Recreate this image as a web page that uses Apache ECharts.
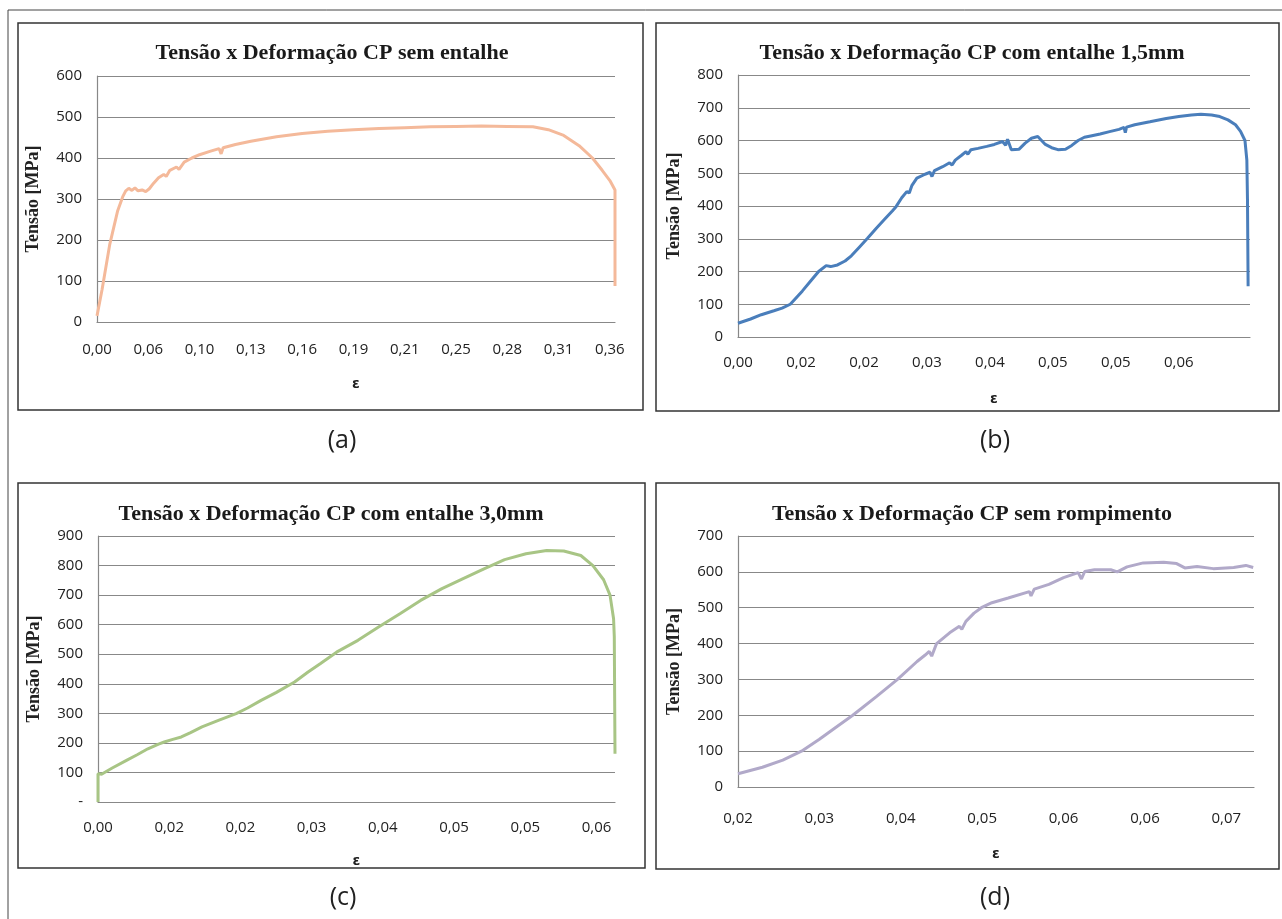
<!DOCTYPE html>
<html>
<head>
<meta charset="utf-8">
<script src="https://cdn.jsdelivr.net/npm/echarts@6/dist/echarts.min.js"></script>
<style>
  html, body { margin: 0; padding: 0; background: #fff; }
  #main { width: 1282px; height: 919px; }
</style>
</head>
<body>
<div id="main"></div>
<script>
// rótulos do eixo x (categorias do Excel)
const ticksA = ['0,00', '0,06', '0,10', '0,13', '0,16', '0,19', '0,21', '0,25', '0,28', '0,31', '0,36'];
const ticksB = ['0,00', '0,02', '0,02', '0,03', '0,04', '0,05', '0,05', '0,06'];
const ticksC = ['0,00', '0,02', '0,02', '0,03', '0,04', '0,05', '0,05', '0,06'];
const ticksD = ['0,02', '0,03', '0,04', '0,05', '0,06', '0,06', '0,07'];

// posição na escala de categorias (em unidades de rótulo)
const posA = [0, 0.1, 0.25, 0.4, 0.5, 0.56, 0.62, 0.68, 0.74, 0.8, 0.88, 0.95, 1.02, 1.1, 1.2, 1.3, 1.35, 1.42, 1.55, 1.6, 1.7, 1.85, 2.0, 2.2, 2.38, 2.42, 2.46, 2.7, 3.0, 3.5, 4.0, 4.5, 5.0, 5.5, 6.0, 6.5, 7.0, 7.5, 8.0, 8.5, 8.8, 9.1, 9.4, 9.66, 9.85, 10.0, 10.1, 10.1];
const tensaoA = [15, 80, 190, 270, 305, 320, 326, 321, 327, 320, 322, 318, 325, 338, 352, 360, 355, 370, 378, 372, 390, 400, 408, 416, 423, 410, 425, 433, 441, 452, 460, 465, 469, 472, 474, 476, 477, 478, 477, 476, 469, 455, 430, 400, 370, 345, 322, 88];

const posB = [0, 0.2, 0.37, 0.57, 0.7, 0.83, 1.02, 1.15, 1.28, 1.4, 1.47, 1.58, 1.7, 1.8, 1.93, 2.06, 2.2, 2.32, 2.45, 2.51, 2.6, 2.68, 2.72, 2.76, 2.84, 2.97, 3.05, 3.08, 3.12, 3.25, 3.36, 3.4, 3.45, 3.55, 3.62, 3.65, 3.7, 3.81, 3.95, 4.07, 4.2, 4.25, 4.28, 4.34, 4.46, 4.56, 4.66, 4.76, 4.82, 4.88, 4.98, 5.08, 5.2, 5.3, 5.4, 5.5, 5.6, 5.75, 5.9, 6.05, 6.13, 6.15, 6.17, 6.3, 6.54, 6.8, 7.0, 7.2, 7.35, 7.52, 7.65, 7.78, 7.9, 7.98, 8.05, 8.08, 8.09, 8.1];
const tensaoB = [42, 55, 68, 80, 88, 100, 140, 170, 200, 218, 215, 220, 232, 248, 275, 302, 333, 358, 385, 398, 425, 444, 440, 462, 485, 497, 503, 490, 508, 520, 532, 525, 540, 555, 566, 558, 572, 576, 582, 588, 597, 585, 604, 572, 573, 592, 607, 612, 600, 588, 578, 572, 573, 585, 600, 610, 614, 620, 627, 634, 640, 624, 641, 648, 657, 667, 673, 678, 680, 678, 673, 663, 648, 628, 600, 540, 420, 155];

const posC = [0, 0, 0.05, 0.2, 0.4, 0.55, 0.7, 0.85, 0.93, 1.05, 1.17, 1.3, 1.46, 1.7, 1.94, 2.1, 2.29, 2.5, 2.76, 2.95, 3.12, 3.35, 3.65, 3.94, 4.24, 4.53, 4.83, 5.12, 5.42, 5.71, 6.01, 6.3, 6.54, 6.78, 6.95, 7.1, 7.19, 7.24, 7.25, 7.26];
const tensaoC = [0, 96, 94, 115, 141, 160, 180, 196, 203, 212, 220, 235, 254, 277, 299, 318, 344, 370, 406, 440, 468, 507, 547, 592, 637, 682, 722, 755, 789, 820, 840, 851, 849, 834, 800, 752, 700, 620, 560, 163];

const posD = [0, 0.3, 0.55, 0.78, 1.0, 1.2, 1.41, 1.7, 1.96, 2.2, 2.3, 2.35, 2.38, 2.44, 2.6, 2.72, 2.75, 2.8, 2.9, 2.99, 3.12, 3.32, 3.58, 3.6, 3.64, 3.82, 4.0, 4.18, 4.22, 4.26, 4.38, 4.58, 4.66, 4.78, 4.98, 5.23, 5.39, 5.49, 5.64, 5.84, 6.09, 6.24, 6.33];
const tensaoD = [37, 55, 75, 100, 133, 166, 200, 252, 300, 350, 368, 378, 365, 400, 430, 448, 440, 462, 485, 500, 514, 527, 545, 533, 552, 565, 584, 598, 580, 601, 606, 606, 600, 614, 625, 627, 623, 611, 615, 609, 612, 618, 612];

const titulos = [
  'Tensão x Deformação CP sem entalhe',
  'Tensão x Deformação CP com entalhe 1,5mm',
  'Tensão x Deformação CP com entalhe 3,0mm',
  'Tensão x Deformação CP sem rompimento'
];
const legendas = ['(a)', '(b)', '(c)', '(d)'];

const grade = '#888888';
const fonteNum = 'Open Sans';

function junta(pos, val) {
  return pos.map((p, i) => [p, val[i]]);
}

let myChart = echarts.init(document.getElementById('main'));

function eixoX(idx, ticks, max, nameGap, margin) {
  return {
    type: 'value', gridIndex: idx, min: 0, max: max, interval: 1,
    name: 'ε', nameLocation: 'middle', nameGap: nameGap,
    nameTextStyle: { fontSize: 14, fontWeight: 'bold', color: '#222', fontFamily: 'DejaVu Sans' },
    axisLine: { show: true, lineStyle: { color: grade, width: 1.2 } },
    axisTick: { show: false },
    splitLine: { show: false },
    axisLabel: {
      margin: margin, fontSize: 15, color: '#222', fontFamily: fonteNum,
      showMaxLabel: false,
      formatter: function (v) { return Number.isInteger(v) && ticks[v] !== undefined ? ticks[v] : ''; }
    }
  };
}

function eixoY(idx, max, zeroTraco) {
  return {
    type: 'value', gridIndex: idx, min: 0, max: max, interval: 100,
    name: 'Tensão [MPa]', nameLocation: 'middle', nameGap: 55, nameRotate: 90,
    nameTextStyle: { fontSize: 18, fontWeight: 'bold', color: '#222', fontFamily: 'Liberation Serif' },
    axisLine: { show: true, lineStyle: { color: grade, width: 1.2 } },
    axisTick: { show: false },
    splitLine: { show: true, lineStyle: { color: grade, width: 1.2 } },
    axisLabel: {
      margin: 15, fontSize: 15, color: '#222', fontFamily: fonteNum,
      formatter: function (v) { return (zeroTraco && v === 0) ? '-' : String(v); }
    }
  };
}

function serie(idx, dados, cor) {
  return {
    type: 'line', xAxisIndex: idx, yAxisIndex: idx, data: dados,
    showSymbol: false, smooth: false, animation: false,
    lineStyle: { color: cor, width: 3 }, itemStyle: { color: cor }
  };
}

const centros = [[332, 53], [972, 53], [331, 514], [972, 514]];
const centrosLeg = [[342, 441], [995, 441], [343, 898], [995, 898]];

let option = {
  animation: false,
  title: titulos.map((t, i) => ({
    text: t, left: centros[i][0], top: centros[i][1], padding: 0,
    textAlign: 'center', textVerticalAlign: 'middle',
    textStyle: { fontFamily: 'Liberation Serif', fontWeight: 'bold', fontSize: 22, color: '#1a1a1a' }
  })).concat(legendas.map((t, i) => ({
    text: t, left: centrosLeg[i][0], top: centrosLeg[i][1], padding: 0,
    textAlign: 'center', textVerticalAlign: 'middle',
    textStyle: { fontFamily: 'Open Sans', fontWeight: 'normal', fontSize: 25, color: '#222' }
  }))),
  graphic: [
    { type: 'rect', shape: { x: 8, y: 10, width: 1290, height: 920 }, style: { fill: 'none', stroke: '#444', lineWidth: 1 } },
    { type: 'rect', shape: { x: 18, y: 23, width: 625, height: 387 }, style: { fill: 'none', stroke: '#333', lineWidth: 1.5 } },
    { type: 'rect', shape: { x: 656, y: 23, width: 623, height: 388 }, style: { fill: 'none', stroke: '#333', lineWidth: 1.5 } },
    { type: 'rect', shape: { x: 18, y: 483, width: 627, height: 385 }, style: { fill: 'none', stroke: '#333', lineWidth: 1.5 } },
    { type: 'rect', shape: { x: 656, y: 483, width: 623, height: 386 }, style: { fill: 'none', stroke: '#333', lineWidth: 1.5 } }
  ],
  grid: [
    { left: 97, top: 76, width: 518, height: 246 },
    { left: 738, top: 75, width: 512, height: 262 },
    { left: 98, top: 536, width: 517, height: 266 },
    { left: 738, top: 536, width: 516, height: 251 }
  ],
  xAxis: [
    eixoX(0, ticksA, 10.1, 55, 20),
    eixoX(1, ticksB, 8.13, 55, 18),
    eixoX(2, ticksC, 7.26, 52, 18),
    eixoX(3, ticksD, 6.34, 60, 24)
  ],
  yAxis: [
    eixoY(0, 600, false),
    eixoY(1, 800, false),
    eixoY(2, 900, true),
    eixoY(3, 700, false)
  ],
  series: [
    serie(0, junta(posA, tensaoA), '#F4B99A'),
    serie(1, junta(posB, tensaoB), '#4A7EBB'),
    serie(2, junta(posC, tensaoC), '#A8C585'),
    serie(3, junta(posD, tensaoD), '#B1A9C9')
  ]
};
myChart.setOption(option);
</script>
</body>
</html>
